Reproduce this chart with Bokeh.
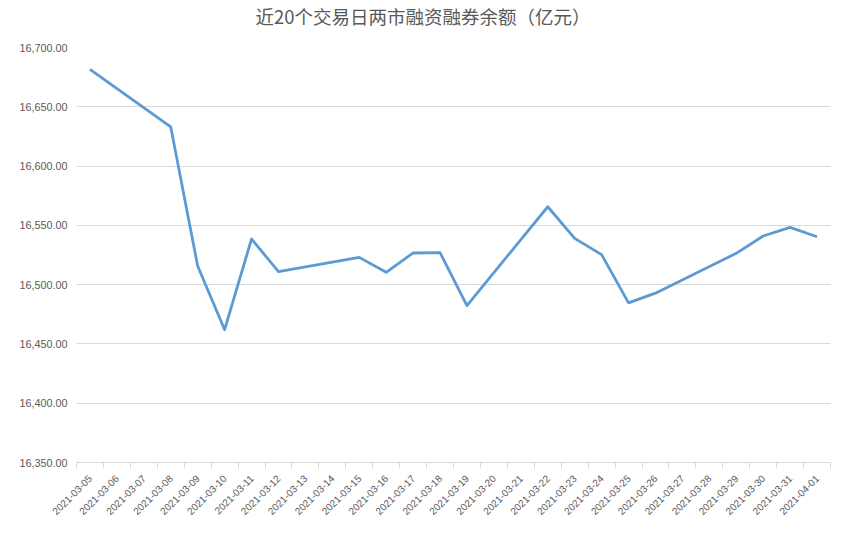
import math
from bokeh.plotting import figure
from bokeh.models import (Range1d, FixedTicker, NumeralTickFormatter, ColumnDataSource, Title)
from bokeh.embed import file_html
from bokeh.resources import INLINE

title_text = "近20个交易日两市融资融券余额（亿元）"

# all calendar days shown on the category axis
all_dates = [
    "2021-03-05", "2021-03-06", "2021-03-07", "2021-03-08", "2021-03-09",
    "2021-03-10", "2021-03-11", "2021-03-12", "2021-03-13", "2021-03-14",
    "2021-03-15", "2021-03-16", "2021-03-17", "2021-03-18", "2021-03-19",
    "2021-03-20", "2021-03-21", "2021-03-22", "2021-03-23", "2021-03-24",
    "2021-03-25", "2021-03-26", "2021-03-27", "2021-03-28", "2021-03-29",
    "2021-03-30", "2021-03-31", "2021-04-01",
]

# trading days and balances (100 million yuan)
trade_dates = [
    "2021-03-05", "2021-03-08", "2021-03-09", "2021-03-10", "2021-03-11",
    "2021-03-12", "2021-03-15", "2021-03-16", "2021-03-17", "2021-03-18",
    "2021-03-19", "2021-03-22", "2021-03-23", "2021-03-24", "2021-03-25",
    "2021-03-26", "2021-03-29", "2021-03-30", "2021-03-31", "2021-04-01",
]
balance = [
    16681.5, 16633.0, 16515.7, 16462.0, 16538.5,
    16511.0, 16523.0, 16510.4, 16526.7, 16527.0,
    16482.4, 16565.7, 16539.0, 16525.3, 16484.6,
    16492.8, 16526.4, 16541.0, 16548.3, 16540.4,
]

y_ticks = [16350, 16400, 16450, 16500, 16550, 16600, 16650, 16700]

GRAY = "#595959"
GRID = "#d9d9d9"
FONT = "Noto Sans CJK SC"

n = len(all_dates)
centers = [i + 0.5 for i in range(n)]
bounds = list(range(n + 1))
xs = [all_dates.index(d) + 0.5 for d in trade_dates]

p = figure(width=832, height=521, output_backend="svg", toolbar_location=None,
           x_range=Range1d(0, n),
           y_range=Range1d(y_ticks[0], y_ticks[-1]),
           min_border_left=76, min_border_right=2, min_border_top=47,
           min_border_bottom=20)

# main title (outermost panel)
p.title.text = title_text
p.title.align = "left"
p.title.offset = 179
p.title.text_font = FONT
p.title.text_font_size = "18.5px"
p.title.text_font_style = "normal"
p.title.text_color = GRAY
p.title.standoff = 0

# blank spacer between title and plot area
spacer = Title(text=" ", text_font="Liberation Sans", text_font_size="12px",
               standoff=3, text_color="white")
p.add_layout(spacer, "above")

p.outline_line_color = None
p.background_fill_color = "white"
p.border_fill_color = "white"

src = ColumnDataSource(dict(x=xs, y=balance))
p.line("x", "y", source=src, line_color="#5b9bd5", line_width=2.8,
       line_join="round")

# y axis
ya = p.yaxis[0]
ya.ticker = FixedTicker(ticks=y_ticks)
ya.formatter = NumeralTickFormatter(format="0,0.00")
ya.axis_line_color = None
ya.major_tick_line_color = None
ya.major_tick_out = 0
ya.major_tick_in = 0
ya.minor_tick_line_color = None
ya.major_label_text_color = GRAY
ya.major_label_text_font = "Liberation Sans"
ya.major_label_text_font_size = "10.8px"
ya.major_label_standoff = 9
p.ygrid.ticker = FixedTicker(ticks=y_ticks)
p.ygrid.grid_line_color = GRID
p.xgrid.grid_line_color = None

# x axis: labels at category centres, ticks at category boundaries
xa = p.xaxis[0]
xa.ticker = FixedTicker(ticks=centers, minor_ticks=bounds)
xa.major_label_overrides = {c: d for c, d in zip(centers, all_dates)}
xa.axis_line_color = GRID
xa.major_tick_line_color = None
xa.major_tick_out = 0
xa.major_tick_in = 0
xa.minor_tick_line_color = GRID
xa.minor_tick_out = 6
xa.minor_tick_in = 0
xa.major_label_orientation = math.pi / 4
xa.major_label_text_color = GRAY
xa.major_label_text_font = "Liberation Sans"
xa.major_label_text_font_size = "10px"
xa.major_label_standoff = 8

open("out.html", "w").write(file_html(p, INLINE))
